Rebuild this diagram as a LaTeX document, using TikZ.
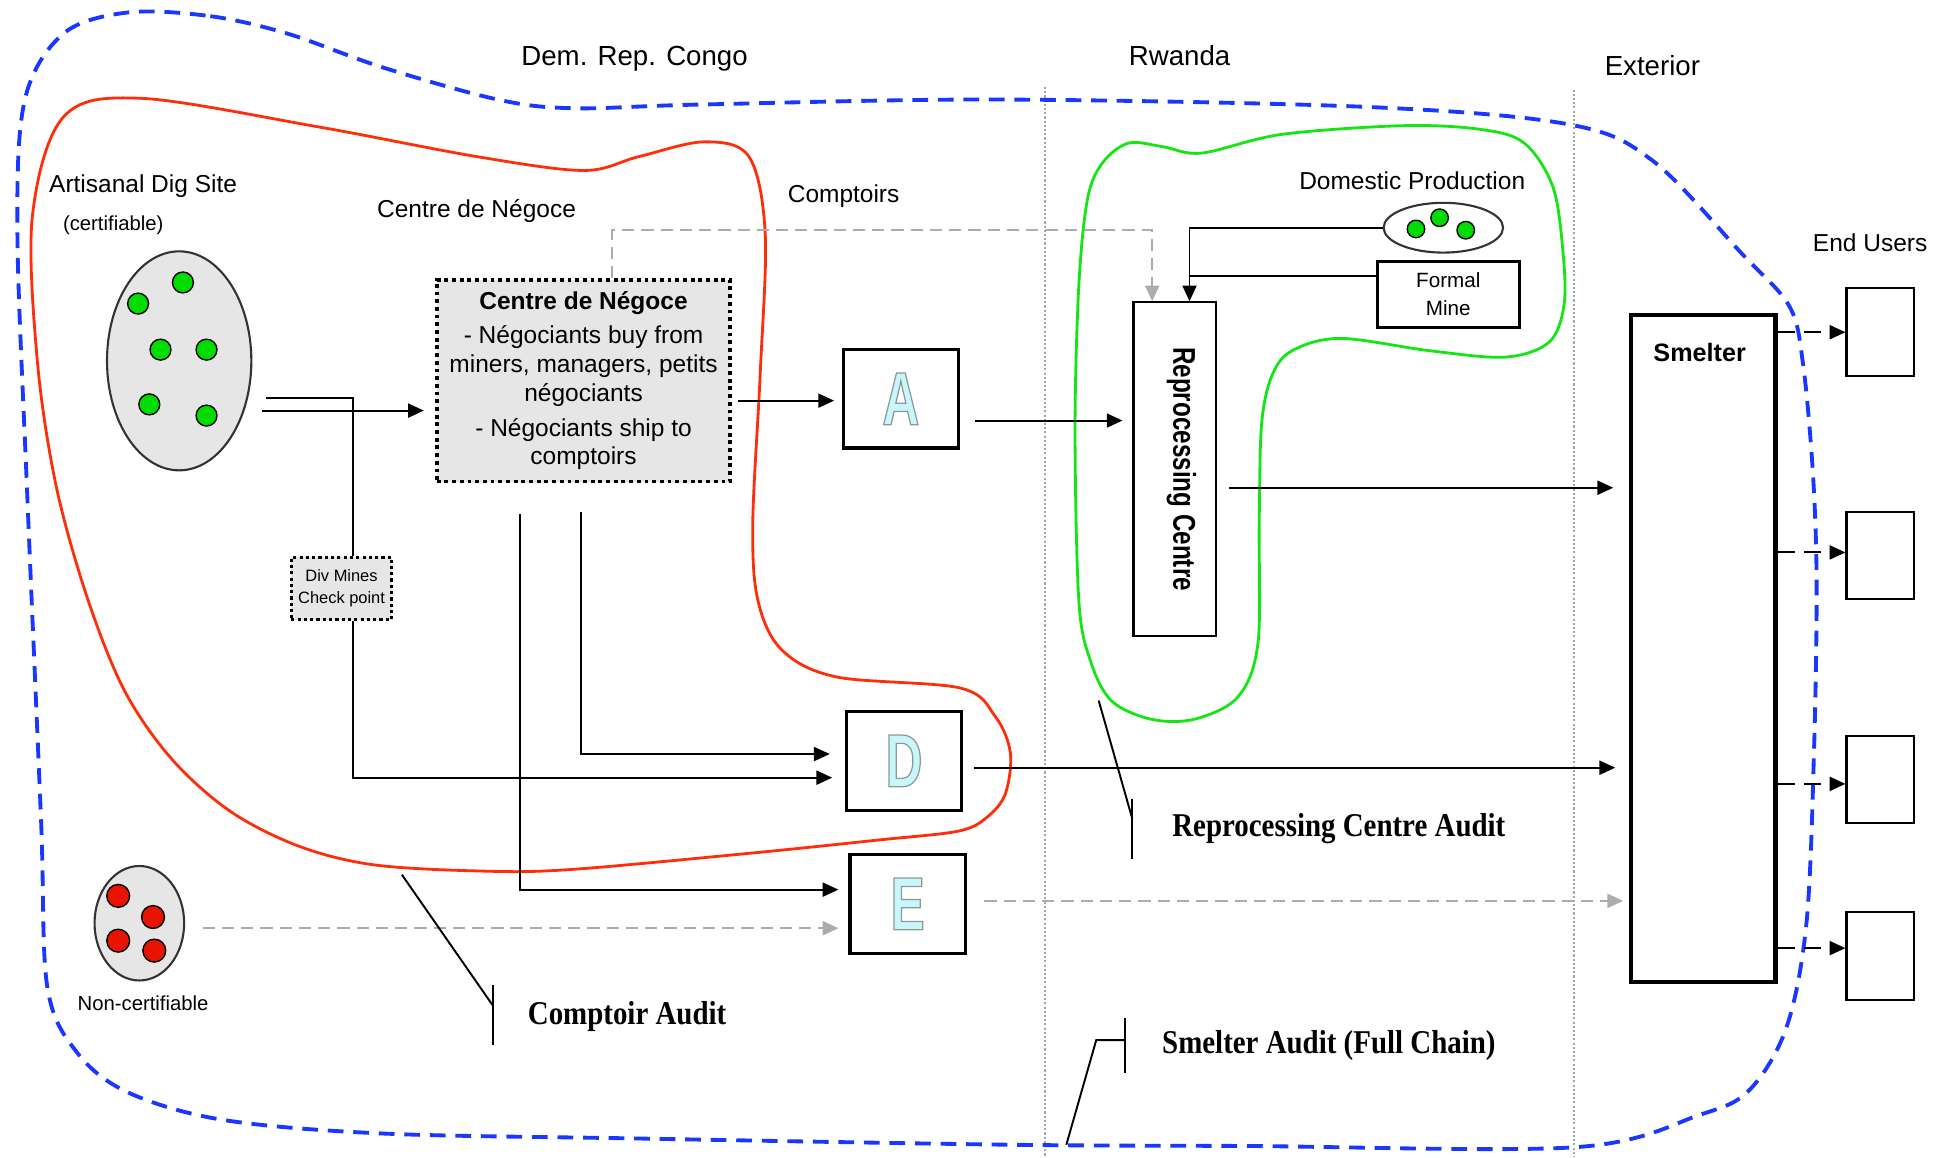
\documentclass[tikz,border=0pt]{standalone}
\usepackage{fontspec}
\setmainfont{Liberation Sans}
\newfontfamily\auditfont[FakeStretch=0.87]{Liberation Serif}
\newfontfamily\narrowfont[FakeStretch=0.77]{Liberation Sans}
\newfontfamily\letterfont[FakeStretch=0.68]{Liberation Sans}
\usetikzlibrary{arrows.meta,shapes.geometric}
\definecolor{scopeblue}{RGB}{25,55,255}
\definecolor{scopered}{RGB}{255,45,10}
\definecolor{scopegreen}{RGB}{20,230,20}
\definecolor{dotgreen}{RGB}{0,220,0}
\definecolor{dotred}{RGB}{230,20,0}
\definecolor{boxgrey}{RGB}{230,230,230}
\definecolor{lettercyan}{RGB}{200,246,250}
\newcommand{\outlined}[1]{\special{pdf:literal direct 2 Tr 0.35 w 0.55 0.6 0.6 RG}#1\special{pdf:literal direct 0 Tr}}
\begin{document}
\begin{tikzpicture}[x=0.125mm,y=-0.125mm,
	lbl/.style={inner sep=0pt, font=\fontsize{7}{8.4}\selectfont},
	regionlbl/.style={inner sep=0pt, font=\fontsize{7.9}{9.5}\selectfont},
	smalllbl/.style={inner sep=0pt, font=\fontsize{5.8}{7}\selectfont},
	auditlbl/.style={inner sep=0pt, font=\auditfont\bfseries\fontsize{9.5}{11}\selectfont},
	site/.style={draw=black!80, fill=boxgrey, ellipse, line width=0.6pt, inner sep=0pt},
	comptoir/.style={draw, line width=0.9pt, minimum width=11.6mm, minimum height=9.9mm, inner sep=0pt, text=lettercyan, font=\letterfont\bfseries\fontsize{21.5}{22}\selectfont},
	plainbox/.style={draw, line width=0.6pt, inner sep=0pt},
	dotbox/.style={draw, fill=boxgrey, line width=1.1pt, dash pattern=on 1.1pt off 1.1pt, inner sep=0pt, align=center},
	wire/.style={line width=0.55pt},
	flow/.style={wire, -{Triangle[length=4.5pt,width=4pt]}},
	greyflow/.style={gray!65, line width=0.6pt, dash pattern=on 3.5pt off 2pt, -{Triangle[length=4.5pt,width=4pt]}},
	userflow/.style={wire, dash pattern=on 5pt off 2.5pt, -{Triangle[length=4.5pt,width=4pt]}},
	sep/.style={gray!70, line width=0.5pt, dash pattern=on 0.6pt off 0.6pt},
	dot/.style={draw=black, line width=0.4pt}]
	\useasboundingbox (0,0) rectangle (1568,930);
	% country borders
	\draw[sep] (840,70) -- (840,930);
	\draw[sep] (1265,72) -- (1265,930);
	% audit scopes
	\draw[scopeblue, line width=1.1pt, dash pattern=on 4.5pt off 2.8pt] plot[smooth cycle, tension=0.55] coordinates {(103,10) (169,13) (231,27) (307,54) (400,80) (461,87) (564,84) (804,80) (1100,86) (1261,100) (1328,129) (1400,204) (1438,246) (1449,292) (1457,380) (1460,470) (1458,600) (1452,740) (1436,825) (1406,876) (1366,896) (1266,922) (1000,921) (811,920) (513,915) (308,911) (179,900) (103,878) (62,846) (38,793) (33,659) (22,400) (14,188) (20,80) (51,27)};
	\draw[scopered, line width=0.8pt] plot[smooth cycle, tension=0.55] coordinates {(26,174) (51,94) (113,79) (256,102) (384,126) (469,137) (513,126) (566,114) (602,126) (615,188) (611,300) (605,420) (609,482) (628,522) (672,544) (772,553) (800,576) (812,605) (808,638) (793,657) (770,668) (707,675) (600,686) (456,699) (385,700) (300,695) (240,680) (185,652) (138,610) (100,555) (70,480) (45,390) (30,290)};
	\draw[scopegreen, line width=0.8pt] plot[smooth cycle, tension=0.55] coordinates {(886,131) (907,115) (935,118) (966,123) (1030,108) (1128,101) (1190,104) (1225,115) (1248,150) (1256,201) (1257,245) (1245,275) (1210,287) (1150,282) (1078,272) (1040,281) (1023,300) (1014,340) (1012,420) (1011,517) (995,560) (960,578) (925,578) (893,563) (876,530) (867,482) (864,346) (867,230) (874,160)};
	% labels
	\node[regionlbl] (congo) at (510,47) {Dem. Rep. Congo};
	\node[regionlbl] (rwanda) at (948,45) {Rwanda};
	\node[regionlbl] (exterior) at (1328,53) {Exterior};
	\node[lbl] (diglbl) at (115,150) {Artisanal Dig Site};
	\node[smalllbl] (certlbl) at (91,181) {(certifiable)};
	\node[lbl] (negocelbl) at (383,170) {Centre de Négoce};
	\node[lbl] (comptoirlbl) at (678,158) {Comptoirs};
	\node[lbl] (domesticlbl) at (1135,145) {Domestic Production};
	\node[lbl] (userlbl) at (1503,195) {End Users};
	\node[smalllbl] (noncertlbl) at (115,806) {Non-certifiable};
	% sites
	\node[site, minimum width=14.5mm, minimum height=22mm] (dig) at (144,290) {};
	\foreach \p in {(111,244),(147,227),(129,281),(166,281),(120,325),(166,334)}
		\filldraw[dot, fill=dotgreen] \p circle (1.05mm);
	\node[site, minimum width=9mm, minimum height=11.5mm] (noncert) at (112,742) {};
	\foreach \p in {(95,720),(123,737),(95,756),(124,764)}
		\filldraw[dot, fill=dotred] \p circle (1.15mm);
	\node[draw=black!80, ellipse, fill=white, line width=0.6pt, minimum width=12mm, minimum height=5mm] (domestic) at (1160,183) {};
	\foreach \p in {(1138,184),(1157,175),(1178,185)}
		\filldraw[dot, fill=dotgreen] \p circle (0.88mm);
	% boxes
	\node[dotbox, minimum width=29.5mm, minimum height=20.25mm, font=\fontsize{7}{8.2}\selectfont] (negoce) at (469,306) {\textbf{Centre de Négoce}\\[1.6pt]- Négociants buy from\\miners, managers, petits\\négociants\\[1.8pt]- Négociants ship to\\comptoirs};
	\node[dotbox, line width=0.9pt, dash pattern=on 0.9pt off 0.9pt, minimum width=10.1mm, minimum height=6.25mm, font=\fontsize{4.7}{6.4}\selectfont] (checkpt) at (274.5,473) {Div Mines\\Check point};
	\node[comptoir] (A) at (724,320.5) {\outlined{A}};
	\node[comptoir] (D) at (726.5,611.5) {\outlined{D}};
	\node[comptoir] (E) at (729.5,726.5) {\outlined{E}};
	\node[plainbox, minimum width=8.25mm, minimum height=33.5mm] (reproc) at (944,377) {};
	\node[rotate=-90, inner sep=0pt, font=\narrowfont\bfseries\fontsize{9}{10}\selectfont] (reproclbl) at ([xshift=0.7mm]reproc.center) {Reprocessing Centre};
	\node[draw, line width=0.85pt, minimum width=14.25mm, minimum height=6.6mm, inner sep=0pt, align=center, font=\fontsize{5.9}{8.2}\selectfont] (formal) at (1164,236.5) {Formal\\Mine};
	\node[draw, line width=1.2pt, minimum width=14.5mm, minimum height=67mm, inner sep=0pt] (smelter) at (1369,521) {};
	\node[inner sep=0pt, font=\bfseries\fontsize{7.2}{8}\selectfont] (smeltlbl) at (1366,283) {Smelter};
	\foreach \i/\y in {1/267,2/446.5,3/626.5,4/768.5}
		\node[plainbox, minimum width=6.75mm, minimum height=8.8mm] (user\i) at (1511,\y) {};
	% flows
	\draw[wire, shorten <=1.4mm] (dig.east |- 0,320) -| (checkpt.north -| 284,0);
	\draw[flow, shorten >=1.25mm] (checkpt.south -| 284,0) |- (D.west |- 0,625);
	\draw[flow, shorten <=1mm, shorten >=1.1mm] (dig.east |- 0,330) -- (negoce.west |- 0,330);
	\draw[flow, shorten <=0.6mm, shorten >=0.75mm] (negoce.east |- 0,322) -- (A.west |- 0,322);
	\draw[flow, shorten <=2.9mm, shorten >=1.5mm] (negoce.south -| 467,0) |- (D.west |- 0,606);
	\draw[flow, shorten <=3.1mm, shorten >=1mm] (negoce.south -| 418,0) |- (E.west |- 0,715);
	\draw[greyflow] (negoce.north -| 492,0) -- (492,185) -| (reproc.north -| 926,0);
	\draw[flow, shorten <=1.5mm, shorten >=1mm] (A.east |- 0,338) -- (reproc.west |- 0,338);
	\draw[flow] (domestic.west) -| (reproc.north -| 956,0);
	\draw[wire] (formal.west |- 0,222) -- (956,222);
	\draw[flow, shorten <=1.25mm, shorten >=1.6mm] (reproc.east |- 0,392) -- (smelter.west |- 0,392);
	\draw[flow, shorten <=1.1mm, shorten >=1.4mm] (D.east |- 0,617) -- (smelter.west |- 0,617);
	\draw[greyflow, shorten <=1.75mm, shorten >=0.6mm] (E.east |- 0,724) -- (smelter.west |- 0,724);
	\draw[greyflow, shorten <=1.75mm, shorten >=1mm] (noncert.east |- 0,746) -- (E.west |- 0,746);
	\foreach \i/\y in {1/267,2/444,3/630,4/762}
		\draw[userflow] (smelter.east |- 0,\y) -- (user\i.west |- 0,\y);
	% audits
	\node[auditlbl] (compaudit) at (504,817) {Comptoir Audit};
	\node[auditlbl] (reprocaudit) at (1076,666) {Reprocessing Centre Audit};
	\node[auditlbl] (smeltaudit) at (1068,840) {Smelter Audit (Full Chain)};
	\coordinate (CA1) at (323,703);
	\coordinate (CA2) at (396,808);
	\coordinate (RA1) at (883,563);
	\coordinate (RA2) at (910,658);
	\coordinate (SA1) at (857,920);
	\coordinate (SA2) at (881,836);
	\draw[wire] (CA1) -- (CA2);
	\draw[wire] (396,792) -- (396,840);
	\draw[wire] (RA1) -- (RA2);
	\draw[wire] (910,642) -- (910,690);
	\draw[wire] (SA1) -- (SA2) -- (904,836);
	\draw[wire] (904,818) -- (904,862);
\end{tikzpicture}
\end{document}
